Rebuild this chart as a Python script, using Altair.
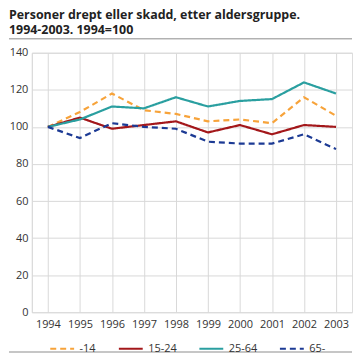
import altair as alt
import pandas as pd

years = [1994, 1995, 1996, 1997, 1998, 1999, 2000, 2001, 2002, 2003]
groups = ["-14", "15-24", "25-64", "65-"]
v_14 = [100, 108, 118, 109, 107, 103, 104, 102, 116, 106]
v_15_24 = [100, 105, 99, 101, 103, 97, 101, 96, 101, 100]
v_25_64 = [100, 104, 111, 110, 116, 111, 114, 115, 124, 118]
v_65 = [100, 94, 102, 100, 99, 92, 91, 91, 96, 88]
colors = ["#f7a33a", "#a3171a", "#2a9fa0", "#1c3a94"]
dashes = [[6, 4], [1, 0], [1, 0], [6, 4]]

rows = []
for g, vals in zip(groups, [v_14, v_15_24, v_25_64, v_65]):
    for y, v in zip(years, vals):
        rows.append({"year": str(y), "group": g, "value": v})
df = pd.DataFrame(rows)

FONT = "Open Sans"

lines = alt.Chart(df).mark_line(strokeWidth=2.2).encode(
    x=alt.X("year:O", title=None,
            scale=alt.Scale(type="point", padding=0.5),
            axis=alt.Axis(labelAngle=0, ticks=False, domain=False, grid=True,
                          gridColor="#d9d9d9", labelColor="#333333",
                          labelFontSize=11, labelFont=FONT, labelPadding=6)),
    y=alt.Y("value:Q", title=None,
            scale=alt.Scale(domain=[0, 140], nice=False),
            axis=alt.Axis(values=[0, 20, 40, 60, 80, 100, 120, 140], ticks=False,
                          domain=True, domainColor="#d9d9d9", gridColor="#d9d9d9",
                          labelColor="#333333", labelFontSize=11, labelFont=FONT,
                          labelPadding=4)),
    color=alt.Color("group:N", scale=alt.Scale(domain=groups, range=colors),
                    legend=alt.Legend(title=None, orient="none", direction="horizontal",
                                      legendX=17, legendY=284, symbolType="stroke",
                                      symbolSize=576, symbolStrokeWidth=2.2,
                                      labelFontSize=11, labelFont=FONT,
                                      labelColor="#333333", columnPadding=18,
                                      labelOffset=4)),
    strokeDash=alt.StrokeDash("group:N", scale=alt.Scale(domain=groups, range=dashes),
                              legend=None),
)

rule_df = pd.DataFrame({"k": [0]})
top_rule = alt.Chart(rule_df).mark_rule(color="#8c8c8c", strokeWidth=1).encode(
    x=alt.value(-23), x2=alt.value(322), y=alt.value(-14)
)
bottom_rule = alt.Chart(rule_df).mark_rule(color="#8c8c8c", strokeWidth=1).encode(
    x=alt.value(-23), x2=alt.value(322), y=alt.value(301)
)

chart = alt.layer(lines, top_rule, bottom_rule).properties(
    width=322, height=261,
    title=alt.TitleParams(
        text=["Personer drept eller skadd, etter aldersgruppe.", "1994-2003. 1994=100"],
        anchor="start", frame="group", font=FONT, fontSize=12.5, fontWeight="bold",
        color="#222222", offset=2, dx=-23, lineHeight=15,
    ),
).configure_view(stroke=None).configure(padding=0)

chart.save("out.html", embed_options={"renderer": "svg", "actions": False})
